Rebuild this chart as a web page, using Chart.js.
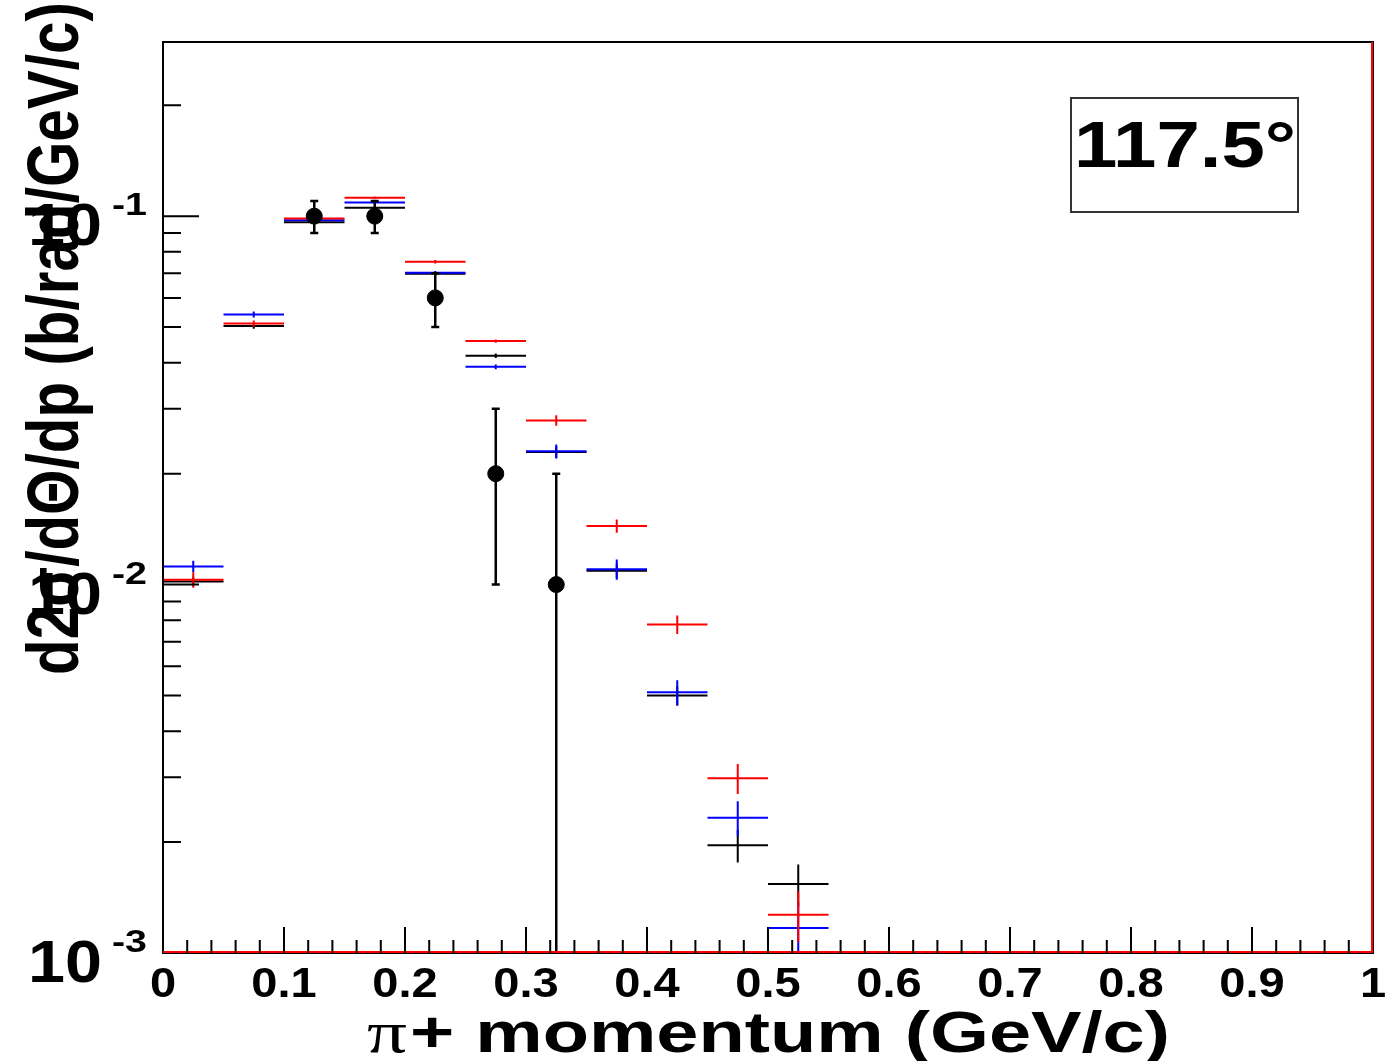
<!DOCTYPE html>
<html>
<head>
<meta charset="utf-8">
<script src="https://cdn.jsdelivr.net/npm/chart.js@4.4.1/dist/chart.umd.min.js"></script>
<style>
  html, body { margin: 0; padding: 0; background: #fff; }
  #wrap { width: 1385px; height: 1061px; position: relative; }
</style>
</head>
<body>
<div id="wrap"><canvas id="c"></canvas></div>
<script>
// momentum bins (GeV/c), 0.05 wide
const binCenters = [0.025, 0.075, 0.125, 0.175, 0.225, 0.275, 0.325, 0.375, 0.425, 0.475, 0.525];
const binHalfWidth = 0.025;

// three simulated spectra (b/rad/GeV/c)
const blackValues = [0.0102, 0.0503, 0.0963, 0.1054, 0.0698, 0.0418, 0.0229, 0.0109, 0.0050, 0.00196, 0.00154];
const blackErrors = [0.0003, 0.0008, 0.0008, 0.0008, 0.0008, 0.0006, 0.0008, 0.0005, 0.0003, 0.0002, 0.0002];
const blueValues  = [0.0112, 0.0541, 0.0975, 0.1089, 0.0702, 0.0390, 0.0230, 0.0110, 0.0051, 0.00233, 0.00117];
const blueErrors  = [0.0004, 0.0010, 0.0008, 0.0008, 0.0008, 0.0006, 0.0010, 0.0007, 0.0004, 0.00025, 0.0002];
const redValues   = [0.0103, 0.0511, 0.0986, 0.1122, 0.0752, 0.0458, 0.0279, 0.01443, 0.00779, 0.00298, 0.00127];
const redErrors   = [0.0005, 0.0010, 0.0008, 0.0008, 0.0008, 0.0005, 0.0009, 0.0006, 0.00045, 0.00028, 0.0002];

// measured points
const dataCenters = [0.125, 0.175, 0.225, 0.275, 0.325];
const dataValues  = [0.1, 0.1, 0.06, 0.02, 0.01];
const dataErrors  = [0.01, 0.01, 0.01, 0.01, 0.01];

// axes
const xTicks = [0, 0.1, 0.2, 0.3, 0.4, 0.5, 0.6, 0.7, 0.8, 0.9, 1];
const xTickLabels = ['0', '0.1', '0.2', '0.3', '0.4', '0.5', '0.6', '0.7', '0.8', '0.9', '1'];
const yDecades = [0.1, 0.01, 0.001];
const yDecadeExponents = ['-1', '-2', '-3'];
const xTitleSymbol = 'π';
const xTitle = '+ momentum (GeV/c)';
const yTitle = 'd2σ/dΘ/dp (b/rad/GeV/c)';
const angleLabel = '117.5°';

const FONT = '"Liberation Sans", Arial, Helvetica, sans-serif';
const SERIF = '"Liberation Serif", "Times New Roman", serif';
const STRETCH = 1.12; // picture is a bit wider than tall

function stretchedText(ctx, text, x, y, size, align, sx) {
  ctx.save();
  ctx.font = 'bold ' + size + 'px ' + FONT;
  const w = ctx.measureText(text).width * sx;
  let x0 = x;
  if (align === 'center') x0 = x - w / 2;
  if (align === 'right') x0 = x - w;
  ctx.translate(x0, y);
  ctx.scale(sx, 1);
  ctx.textAlign = 'left';
  ctx.textBaseline = 'alphabetic';
  ctx.fillText(text, 0, 0);
  ctx.restore();
  return w;
}

// draw text so that it spans exactly `width` pixels
function fittedText(ctx, text, x, y, font, width, sy) {
  ctx.save();
  ctx.font = font;
  const sx = width / ctx.measureText(text).width;
  ctx.translate(x, y);
  ctx.scale(sx, sy || 1);
  ctx.textBaseline = 'alphabetic';
  ctx.textAlign = 'left';
  ctx.fillText(text, 0, 0);
  ctx.restore();
}

const mcSeries = [
  { color: '#000000', values: blackValues, errors: blackErrors },
  { color: '#0000ff', values: blueValues, errors: blueErrors },
  { color: '#ff0000', values: redValues, errors: redErrors }
];

const histoPlugin = {
  id: 'histo',
  beforeDatasetsDraw(chart) {
    const ctx = chart.ctx;
    const xs = chart.scales.x, ys = chart.scales.y;
    const area = chart.chartArea;
    ctx.save();
    ctx.beginPath();
    ctx.rect(area.left, area.top, area.right - area.left, area.bottom - area.top);
    ctx.clip();
    ctx.lineWidth = 2;
    mcSeries.forEach(s => {
      ctx.strokeStyle = s.color;
      binCenters.forEach((c, i) => {
        const y = ys.getPixelForValue(s.values[i]);
        const xl = xs.getPixelForValue(c - binHalfWidth);
        const xr = xs.getPixelForValue(c + binHalfWidth);
        const xc = xs.getPixelForValue(c);
        ctx.beginPath();
        ctx.moveTo(xl, y); ctx.lineTo(xr, y);
        const lo = Math.max(s.values[i] - s.errors[i], ys.min);
        ctx.moveTo(xc, ys.getPixelForValue(lo));
        ctx.lineTo(xc, ys.getPixelForValue(s.values[i] + s.errors[i]));
        ctx.stroke();
      });
    });
    // error bars of measured points
    ctx.strokeStyle = '#000';
    ctx.lineWidth = 2.5;
    dataCenters.forEach((c, i) => {
      const xc = xs.getPixelForValue(c);
      const top = ys.getPixelForValue(dataValues[i] + dataErrors[i]);
      const loVal = dataValues[i] - dataErrors[i];
      const bot = ys.getPixelForValue(Math.max(loVal, ys.min));
      ctx.beginPath();
      ctx.moveTo(xc, top); ctx.lineTo(xc, bot);
      ctx.moveTo(xc - 4, top); ctx.lineTo(xc + 4, top);
      if (loVal > ys.min) { ctx.moveTo(xc - 4, bot); ctx.lineTo(xc + 4, bot); }
      ctx.stroke();
    });
    ctx.restore();
  },
  afterDraw(chart) {
    const ctx = chart.ctx;
    const xs = chart.scales.x, ys = chart.scales.y;
    const a = chart.chartArea;
    ctx.save();
    // frame
    ctx.strokeStyle = '#000';
    ctx.lineWidth = 2;
    ctx.strokeRect(a.left, a.top, a.right - a.left, a.bottom - a.top);
    ctx.strokeStyle = '#ff0000';
    ctx.beginPath();
    ctx.moveTo(a.left, a.bottom - 1); ctx.lineTo(a.right - 1, a.bottom - 1);
    ctx.lineTo(a.right - 1, a.top);
    ctx.stroke();

    // x ticks (inward)
    ctx.strokeStyle = '#000';
    ctx.lineWidth = 2;
    ctx.beginPath();
    for (let k = 1; k < 50; k++) {
      const px = xs.getPixelForValue(k / 50);
      const len = (k % 5 === 0) ? 26 : 13;
      ctx.moveTo(px, a.bottom); ctx.lineTo(px, a.bottom - len);
    }
    // y ticks (inward)
    yDecades.forEach(d => {
      for (let m = 1; m <= 9; m++) {
        const v = d * m;
        if (v > ys.max || v <= ys.min) continue;
        const py = ys.getPixelForValue(v);
        const len = m === 1 ? 36 : 18;
        ctx.moveTo(a.left, py); ctx.lineTo(a.left + len, py);
      }
    });
    ctx.stroke();

    ctx.fillStyle = '#000';
    // x tick labels
    xTicks.forEach((v, i) => {
      stretchedText(ctx, xTickLabels[i], xs.getPixelForValue(v), a.bottom + 44, 42, 'center', STRETCH);
    });
    // y tick labels 10^n
    yDecades.forEach((d, i) => {
      const py = ys.getPixelForValue(d);
      fittedText(ctx, '10', 28, py + 29, 'bold 60px ' + FONT, 74);
      fittedText(ctx, yDecadeExponents[i], 112, py - 1, 'bold 32px ' + FONT, 35);
    });

    // x title: serif pi followed by bold sans text
    fittedText(ctx, xTitleSymbol, 367, 1052, '60px ' + SERIF, 40);
    fittedText(ctx, xTitle, 410, 1052, 'bold 58px ' + FONT, 760);

    // y title (rotated)
    ctx.save();
    ctx.translate(78, 675);
    ctx.rotate(-Math.PI / 2);
    fittedText(ctx, yTitle, 0, 0, 'bold 64px ' + FONT, 673, STRETCH);
    ctx.restore();

    // angle box
    ctx.strokeStyle = '#333';
    ctx.lineWidth = 2;
    ctx.strokeRect(1071, 98, 227, 114);
    fittedText(ctx, angleLabel, 1074, 167, 'bold 64px ' + FONT, 222);
    ctx.restore();
  }
};

new Chart(document.getElementById('c'), {
  type: 'scatter',
  data: {
    datasets: [{
      label: 'data',
      data: dataCenters.map((c, i) => ({ x: c, y: dataValues[i] })),
      pointRadius: 8,
      pointHoverRadius: 8,
      pointBackgroundColor: '#000',
      pointBorderColor: '#000',
      showLine: false
    }]
  },
  options: {
    responsive: true,
    maintainAspectRatio: false,
    animation: false,
    layout: { padding: { left: 163, top: 42, right: 12, bottom: 108 } },
    plugins: { legend: { display: false }, tooltip: { enabled: false } },
    scales: {
      x: { type: 'linear', min: 0, max: 1, display: false },
      y: { type: 'logarithmic', min: 0.001, max: 0.297, display: false }
    }
  },
  plugins: [histoPlugin]
});
</script>
</body>
</html>
